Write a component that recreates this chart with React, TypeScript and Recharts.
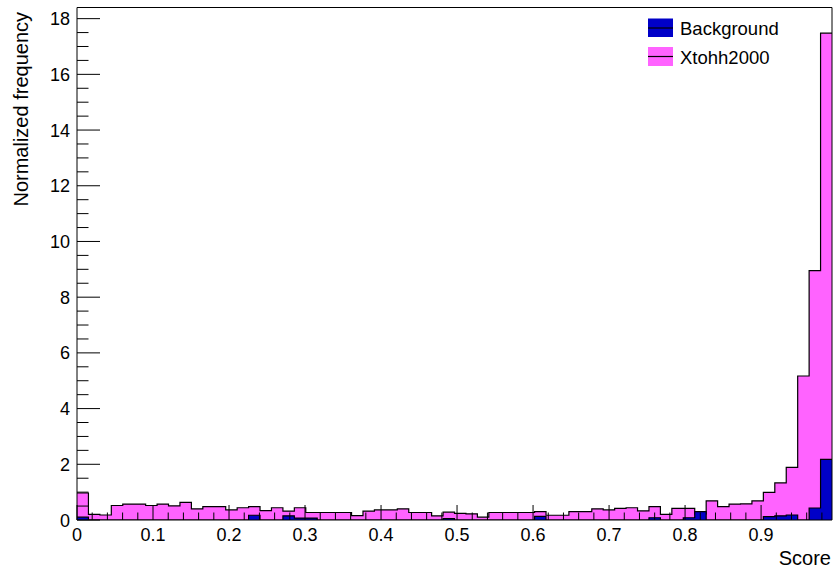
import React from 'react';
import { ComposedChart, Area, XAxis, YAxis, ReferenceArea } from 'recharts';

const BIN_WIDTH = 0.01505;
const N_BINS = 66;
const X_MAX = BIN_WIDTH * N_BINS;
const Y_MAX = 18.4;

// Xtohh2000 (magenta) normalized frequency per bin
const signal = [
  0.97, 0.2, 0.18, 0.52, 0.57, 0.57, 0.52, 0.57, 0.51, 0.63,
  0.4, 0.48, 0.48, 0.36, 0.44, 0.48, 0.34, 0.44, 0.32, 0.44,
  0.27, 0.27, 0.27, 0.27, 0.16, 0.32, 0.36, 0.36, 0.4, 0.27,
  0.27, 0.15, 0.28, 0.24, 0.22, 0.1, 0.27, 0.27, 0.27, 0.27,
  0.3, 0.17, 0.17, 0.3, 0.3, 0.4, 0.36, 0.42, 0.44, 0.33,
  0.48, 0.2, 0.42, 0.42, 0.22, 0.69, 0.48, 0.57, 0.58, 0.69,
  0.99, 1.33, 1.89, 5.17, 8.95, 17.48,
];

// Background (blue) normalized frequency per bin
const background = [
  0.1, 0, 0, 0, 0, 0, 0, 0, 0, 0,
  0, 0, 0, 0, 0, 0.17, 0, 0, 0.15, 0.07,
  0.07, 0, 0, 0, 0, 0, 0, 0, 0, 0,
  0, 0, 0.05, 0, 0, 0, 0, 0, 0, 0,
  0.13, 0, 0, 0, 0, 0, 0, 0, 0, 0,
  0.08, 0, 0, 0.08, 0.3, 0, 0, 0, 0, 0,
  0.12, 0.15, 0.18, 0, 0.43, 2.18,
];

const xMajorLabels = ['0', '0.1', '0.2', '0.3', '0.4', '0.5', '0.6', '0.7', '0.8', '0.9'];
const yMajorLabels = ['0', '2', '4', '6', '8', '10', '12', '14', '16', '18'];

const X_MINOR_PER_MAJOR = 5;
const Y_MINOR_PER_MAJOR = 4;

const data = signal.map((s, k) => ({ x: k * BIN_WIDTH, sig: s, bg: background[k] }));
data.push({ x: X_MAX, sig: signal[signal.length - 1], bg: background[background.length - 1] });

const xTicks: number[] = [];
for (let i = 0; i < xMajorLabels.length * X_MINOR_PER_MAJOR; i++) {
  const v = Math.round(i * (0.1 / X_MINOR_PER_MAJOR) * 10000) / 10000;
  if (v <= X_MAX) xTicks.push(v);
}
const yTicks: number[] = [];
for (let i = 0; i <= (yMajorLabels.length - 1) * Y_MINOR_PER_MAJOR; i++) {
  yTicks.push(i * (2 / Y_MINOR_PER_MAJOR));
}

const FONT = '"Liberation Sans", Arial, Helvetica, sans-serif';
const BLUE = '#0000c8';
const MAGENTA = '#ff63ff';

const XTick = (props: any) => {
  const { x, y, index } = props;
  const major = index % X_MINOR_PER_MAJOR === 0;
  return (
    <g>
      <line x1={x} x2={x} y1={y} y2={y - (major ? 15 : 7.5)} stroke="#000" strokeWidth={1} />
      {major && (
        <text x={x} y={y + 21} textAnchor="middle" fontSize={18} fontFamily={FONT} fill="#000">
          {xMajorLabels[index / X_MINOR_PER_MAJOR]}
        </text>
      )}
    </g>
  );
};

const YTick = (props: any) => {
  const { x, y, index } = props;
  const major = index % Y_MINOR_PER_MAJOR === 0;
  return (
    <g>
      <line x1={x} x2={x + (major ? 23 : 11.5)} y1={y} y2={y} stroke="#000" strokeWidth={1} />
      {major && (
        <text x={x - 7} y={y + 6.5} textAnchor="end" fontSize={18} fontFamily={FONT} fill="#000">
          {yMajorLabels[index / Y_MINOR_PER_MAJOR]}
        </text>
      )}
    </g>
  );
};

export default function App() {
  return (
    <div style={{ position: 'absolute', left: 0, top: 0, width: 833, height: 571, background: '#fff' }}>
      <ComposedChart
        width={833}
        height={571}
        data={data}
        margin={{ top: 7.5, right: 1, bottom: 0, left: 0 }}
      >
        <XAxis
          dataKey="x"
          type="number"
          domain={[0, X_MAX]}
          ticks={xTicks}
          interval={0}
          height={51}
          tickSize={0}
          tickMargin={0}
          tickLine={false}
          axisLine={false}
          tick={<XTick />}
          allowDataOverflow
        />
        <YAxis
          type="number"
          domain={[0, Y_MAX]}
          ticks={yTicks}
          interval={0}
          width={77}
          tickSize={0}
          tickMargin={0}
          tickLine={false}
          axisLine={false}
          tick={<YTick />}
          allowDataOverflow
        />
        <Area
          type="stepAfter"
          dataKey="sig"
          stroke="#000"
          strokeWidth={1.2}
          fill={MAGENTA}
          fillOpacity={1}
          dot={false}
          activeDot={false}
          isAnimationActive={false}
        />
        <Area
          type="stepAfter"
          dataKey="bg"
          stroke="#000"
          strokeWidth={1.2}
          fill={BLUE}
          fillOpacity={1}
          dot={false}
          activeDot={false}
          isAnimationActive={false}
        />
        <ReferenceArea x1={0} x2={X_MAX} y1={0} y2={Y_MAX} fill="none" stroke="#000" strokeWidth={1} />
      </ComposedChart>
      <svg
        width={833}
        height={571}
        style={{ position: 'absolute', left: 0, top: 0, pointerEvents: 'none' }}
      >
        <text
          transform="translate(28,12) rotate(-90)"
          textAnchor="end"
          fontSize={20}
          fontFamily={FONT}
          fill="#000"
        >
          Normalized frequency
        </text>
        <text x={831} y={565} textAnchor="end" fontSize={20} fontFamily={FONT} fill="#000">
          Score
        </text>
        <rect x={648} y={18.5} width={25} height={18.5} fill={BLUE} />
        <line x1={648} x2={673} y1={28} y2={28} stroke="#000" strokeWidth={1.2} />
        <text x={680} y={35} fontSize={18.5} fontFamily={FONT} fill="#000">
          Background
        </text>
        <rect x={648} y={47} width={25} height={19} fill={MAGENTA} />
        <line x1={648} x2={673} y1={56.5} y2={56.5} stroke="#000" strokeWidth={1.2} />
        <text x={680} y={63.5} fontSize={18.5} fontFamily={FONT} fill="#000">
          Xtohh2000
        </text>
      </svg>
    </div>
  );
}
